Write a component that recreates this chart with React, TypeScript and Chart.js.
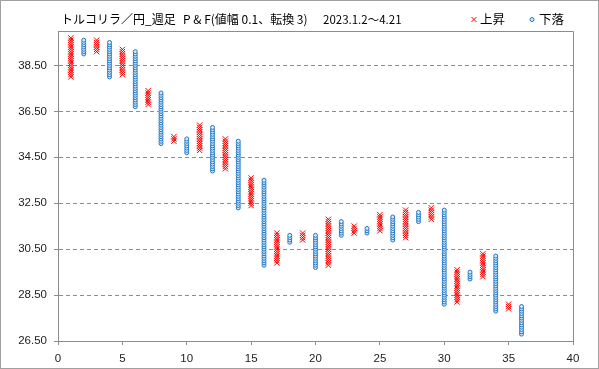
import React, { useEffect, useRef } from 'react';
import { Chart, registerables } from 'chart.js';

Chart.register(...registerables);

// Point & Figure columns (box size 0.1, reversal 3)
const colNumbers = [1, 2, 3, 4, 5, 6, 7, 8, 9, 10, 11, 12, 13, 14, 15, 16, 17, 18, 19, 20, 21, 22, 23, 24, 25, 26, 27, 28, 29, 30, 31, 32, 33, 34, 35, 36];
const colTypes = ['X', 'O', 'X', 'O', 'X', 'O', 'X', 'O', 'X', 'O', 'X', 'O', 'X', 'O', 'X', 'O', 'X', 'O', 'X', 'O', 'X', 'O', 'X', 'O', 'X', 'O', 'X', 'O', 'X', 'O', 'X', 'O', 'X', 'O', 'X', 'O'];
const colLows = [38.0, 39.0, 39.1, 38.0, 38.1, 36.7, 36.8, 35.1, 35.2, 34.7, 34.8, 33.9, 34.0, 32.3, 32.4, 29.8, 29.9, 30.8, 30.9, 29.7, 29.8, 31.1, 31.2, 31.2, 31.3, 30.9, 31.0, 31.7, 31.8, 28.1, 28.2, 29.2, 29.3, 27.8, 27.9, 26.8];
const colHighs = [39.7, 39.6, 39.6, 39.5, 39.2, 39.1, 37.4, 37.3, 35.4, 35.3, 35.9, 35.8, 35.3, 35.2, 33.6, 33.5, 31.2, 31.1, 31.2, 31.1, 31.8, 31.7, 31.5, 31.4, 32.0, 31.9, 32.2, 32.1, 32.3, 32.2, 29.6, 29.5, 30.3, 30.2, 28.1, 28.0];

const yTickValues = [26.5, 28.5, 30.5, 32.5, 34.5, 36.5, 38.5];
const Y_MIN = 26.5;
const Y_MAX = 40;
const X_MIN = 0;
const X_MAX = 40;
const X_STEP = 5;
const BOX = 0.1;

const titleMain = 'トルコリラ／円_週足';
const titleSub = 'P & F(値幅 0.1、転換 3)';
const titlePeriod = '2023.1.2～4.21';
const riseLabel = '上昇';
const fallLabel = '下落';

const RED = '#FF0000';
const BLUE = '#1F78C8';
const BLUE_FILL = '#D6E8F8';
const GRID = '#8C8C8C';

function boxesFor(kind: string) {
  const pts: { x: number; y: number }[] = [];
  colNumbers.forEach((c, i) => {
    if (colTypes[i] !== kind) return;
    const lo = Math.round(colLows[i] / BOX);
    const hi = Math.round(colHighs[i] / BOX);
    for (let k = lo; k <= hi; k++) pts.push({ x: c, y: +(k * BOX).toFixed(1) });
  });
  return pts;
}

const decorPlugin = {
  id: 'decor',
  beforeDraw(chart: any) {
    const { ctx, width, height } = chart;
    ctx.save();
    ctx.fillStyle = '#ffffff';
    ctx.fillRect(0, 0, width, height);
    ctx.restore();
  },
  afterDraw(chart: any) {
    const { ctx, chartArea: a, width, height } = chart;
    ctx.save();
    // plot area top/right border
    ctx.strokeStyle = GRID;
    ctx.lineWidth = 1;
    const l = Math.round(a.left) + 0.5;
    const t = Math.round(a.top) + 0.5;
    const r = Math.round(a.right) + 0.5;
    const b = Math.round(a.bottom) + 0.5;
    ctx.beginPath();
    ctx.moveTo(l, t);
    ctx.lineTo(r, t);
    ctx.lineTo(r, b);
    ctx.stroke();
    // outer frame
    ctx.strokeStyle = '#A0A0A0';
    ctx.strokeRect(0.5, 0.5, width - 1, height - 1);

    // title
    ctx.fillStyle = '#000000';
    ctx.textBaseline = 'middle';
    ctx.textAlign = 'left';
    ctx.font = '12px "Noto Sans CJK JP"';
    ctx.fillText(titleMain, 61, 19);
    ctx.font = '12px "Noto Sans CJK JP"';
    ctx.fillText(titleSub, 183, 19.5);
    ctx.font = '11.5px "Noto Sans CJK JP"';
    ctx.fillText(titlePeriod, 323, 19.5);

    // legend
    ctx.font = '12.5px "Noto Sans CJK JP"';
    ctx.strokeStyle = RED;
    ctx.lineWidth = 1;
    ctx.beginPath();
    ctx.moveTo(471.5, 17);
    ctx.lineTo(476.5, 22);
    ctx.moveTo(476.5, 17);
    ctx.lineTo(471.5, 22);
    ctx.stroke();
    ctx.fillText(riseLabel, 480, 19);
    ctx.strokeStyle = BLUE;
    ctx.fillStyle = BLUE_FILL;
    ctx.beginPath();
    ctx.arc(532, 19.5, 2, 0, Math.PI * 2);
    ctx.fill();
    ctx.stroke();
    ctx.fillStyle = '#000000';
    ctx.fillText(fallLabel, 539, 19);
    ctx.restore();
  },
};

export default function App() {
  const ref = useRef<HTMLCanvasElement | null>(null);

  useEffect(() => {
    document.body.style.margin = '0';
    const canvas = ref.current;
    if (!canvas) return;
    const tickFont = { family: '"Liberation Sans", Arial, sans-serif', size: 11.5 };
    const chart = new Chart(canvas, {
      type: 'scatter',
      data: {
        datasets: [
          {
            label: riseLabel,
            data: boxesFor('X'),
            pointStyle: 'crossRot',
            pointRadius: 3.8,
            pointBorderWidth: 1,
            borderColor: RED,
            backgroundColor: RED,
          },
          {
            label: fallLabel,
            data: boxesFor('O'),
            pointStyle: 'circle',
            pointRadius: 2,
            pointBorderWidth: 1,
            borderColor: BLUE,
            backgroundColor: BLUE_FILL,
          },
        ],
      },
      options: {
        animation: false,
        responsive: false,
        devicePixelRatio: 1,
        layout: { padding: { left: 18, right: 26, top: 31, bottom: 3 } },
        plugins: {
          legend: { display: false },
          title: { display: false },
          tooltip: { enabled: false },
        },
        scales: {
          x: {
            type: 'linear',
            min: X_MIN,
            max: X_MAX,
            ticks: { stepSize: X_STEP, font: tickFont, color: '#222', padding: 7 },
            grid: { drawOnChartArea: false, drawTicks: true, tickLength: 4, color: GRID },
            border: { color: GRID },
            afterFit: (s: any) => { s.height = 25; },
          },
          y: {
            type: 'linear',
            min: Y_MIN,
            max: Y_MAX,
            afterBuildTicks: (s: any) => { s.ticks = yTickValues.map((v) => ({ value: v })); },
            ticks: {
              font: tickFont,
              color: '#222',
              padding: 7,
              callback: (v: any) => Number(v).toFixed(2),
            },
            grid: { color: GRID, tickLength: 4, drawTicks: true },
            border: { color: GRID, dash: [4, 3] },
            afterFit: (s: any) => { s.width = 40; },
          },
        },
      },
      plugins: [decorPlugin],
    });
    return () => chart.destroy();
  }, []);

  return <canvas ref={ref} width={599} height={369} style={{ display: 'block' }} />;
}
